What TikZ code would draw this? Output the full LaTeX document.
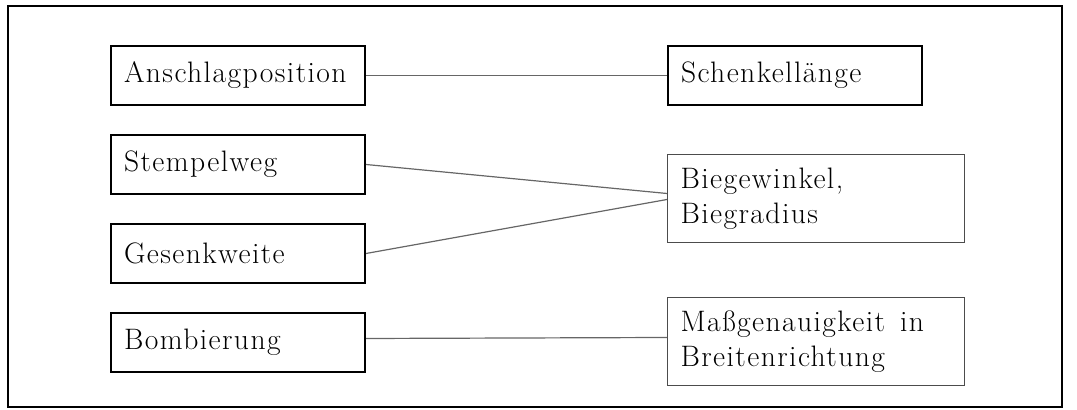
\documentclass[tikz,border=0pt]{standalone}
\usepackage{fontspec}
\usepackage{tikz}
\usetikzlibrary{positioning}
\newfontfamily\boxfamily{Latin Modern Roman}[LetterSpace=4.8]
\tikzset{
  param/.style={
    rectangle, draw, line width=1pt, anchor=north west,
    minimum width=127pt, minimum height=29.5pt,
    inner xsep=6.5pt, text width=114pt, align=left, font=\boxfont
  },
  result/.style={
    rectangle, draw=black!70, line width=0.5pt,
    minimum width=148.5pt, minimum height=44pt,
    inner xsep=6.5pt, text width=135.5pt, align=left, font=\boxfont
  },
  link/.style={black!60, line width=0.6pt},
  frame/.style={draw, line width=0.9pt},
}
\newcommand{\boxfont}{\boxfamily\fontsize{14.8}{17.5}\selectfont}

\begin{document}
\begin{tikzpicture}[x=0.5pt, y=-0.5pt, node distance=14pt]
  \useasboundingbox (0,0) rectangle (1077,410);
  \draw[frame] (8,6) rectangle (1062,407);

  % Nodes
  \node[param] (anschlag) at (110,45) {Anschlagposition};
  \node[param, below=of anschlag] (stempel) {Stempelweg};
  \node[param, below=of stempel] (gesenk) {Gesenkweite};
  \node[param, below=of gesenk] (bomb) {Bombierung};

  \node[param, right=150.5pt of anschlag] (schenkel) {Schenkell\"ange};
  \node[result, below=24pt of schenkel.south west, anchor=north west] (biege)
    {Biegewinkel,\\Biegradius};
  \node[result, below=27pt of biege.south west, anchor=north west] (mass)
    {Ma\ss genauigkeit\hspace{0.5em}in\\Breitenrichtung};

  % Lines
  \draw[link] (anschlag) -- (schenkel);
  \draw[link] (stempel.east) -- ([yshift=2.5pt]biege.west);
  \draw[link] (gesenk.east) -- ([yshift=-0.5pt]biege.west);
  \draw[link] ([yshift=2pt]bomb.east) -- ([yshift=2pt]mass.west);
\end{tikzpicture}
\end{document}
